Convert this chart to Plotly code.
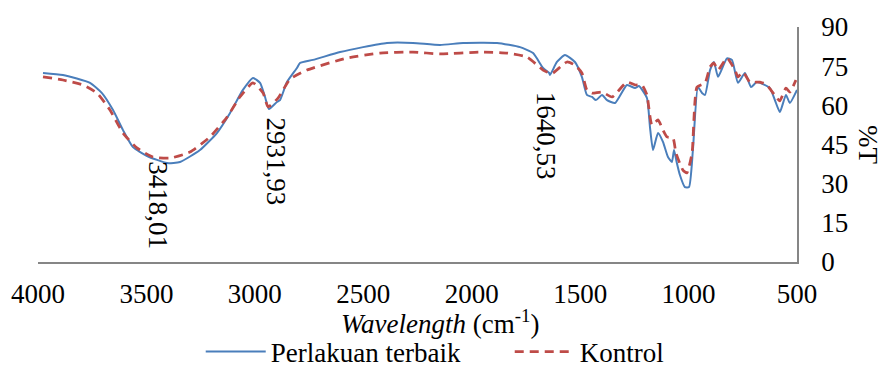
import plotly.graph_objects as go

# Perlakuan terbaik (blue, solid)
wave_best = [3977, 3885, 3760, 3705, 3654, 3608, 3562, 3497, 3405, 3345, 3253, 3175, 3115, 3055,
             3009, 2976, 2953, 2935, 2898, 2884, 2852, 2806, 2792, 2732, 2607, 2501, 2391, 2271,
             2146, 2040, 1883, 1777, 1717, 1671, 1643, 1639, 1607, 1570, 1524, 1492, 1469, 1445,
             1427, 1399, 1376, 1339, 1284, 1247, 1229, 1192, 1178, 1164, 1141, 1118, 1095, 1077,
             1067, 1054, 1040, 1017, 998, 980, 957, 938, 924, 901, 883, 864, 823, 800, 772, 740,
             712, 685, 625, 602, 579, 551, 533, 500]
trans_best = [72.4, 71.6, 68.6, 64.7, 58.2, 50.5, 44.0, 40.6, 37.9, 38.3, 42.9, 49.4, 57.0, 65.9,
              70.5, 68.6, 63.2, 58.6, 61.3, 62.0, 68.9, 74.3, 76.2, 77.4, 80.4, 82.3, 83.9, 83.9,
              83.1, 83.9, 83.9, 82.3, 80.0, 74.3, 72.4, 71.6, 76.6, 79.3, 76.6, 70.9, 64.0, 63.2,
              62.0, 64.0, 62.0, 60.9, 67.8, 66.6, 67.4, 62.8, 51.7, 42.9, 49.4, 46.0, 40.2, 38.3,
              42.9, 37.9, 33.3, 28.7, 28.7, 42.9, 67.0, 64.7, 64.0, 73.5, 76.6, 70.9, 78.0, 77.4,
              68.6, 72.4, 67.0, 68.9, 66.6, 62.0, 57.4, 64.0, 60.9, 65.9]

# Kontrol (red, dashed)
wave_ctrl = [3977, 3885, 3793, 3728, 3668, 3608, 3544, 3470, 3391, 3299, 3207, 3128, 3069, 3009,
             2962, 2939, 2893, 2838, 2760, 2575, 2423, 2271, 2146, 1962, 1837, 1745, 1671, 1643,
             1625, 1561, 1524, 1492, 1469, 1445, 1399, 1353, 1284, 1247, 1215, 1192, 1169, 1141,
             1118, 1100, 1072, 1058, 1026, 1008, 984, 961, 924, 901, 883, 864, 823, 786, 772, 749,
             717, 671, 639, 593, 579, 551, 533, 505]
trans_ctrl = [70.9, 69.7, 67.8, 64.7, 58.2, 49.4, 43.7, 40.2, 39.8, 42.1, 47.9, 55.5, 63.2, 68.6,
              64.7, 59.4, 62.8, 70.0, 73.5, 78.1, 80.0, 80.4, 79.7, 80.4, 80.0, 78.5, 73.5, 72.4,
              72.4, 76.6, 75.4, 72.4, 65.9, 64.7, 65.1, 63.2, 68.9, 67.8, 67.8, 64.0, 52.5, 54.4,
              50.5, 47.9, 47.5, 41.7, 35.2, 34.1, 41.7, 67.0, 68.6, 74.7, 76.2, 73.5, 78.1, 73.5,
              70.9, 72.8, 68.9, 68.9, 67.8, 62.8, 61.7, 66.6, 65.1, 69.7]

x_ticks = [4000, 3500, 3000, 2500, 2000, 1500, 1000, 500]
y_ticks = [0, 15, 30, 45, 60, 75, 90]

peak_labels = ["3418,01", "2931,93", "1640,53"]
peak_x = [3445, 2903, 1657]
peak_y = [21.6, 38.5, 48.3]

FONT = "Liberation Serif"
FS = 27
AXIS_COLOR = "#868686"

fig = go.Figure()
fig.add_trace(go.Scatter(
    x=wave_best, y=trans_best, mode="lines", name="Perlakuan terbaik",
    line=dict(color="#4a7ebb", width=2, shape="spline", smoothing=0.5)))
fig.add_trace(go.Scatter(
    x=wave_ctrl, y=trans_ctrl, mode="lines", name="Kontrol",
    line=dict(color="#be4b48", width=2.75, dash="9px,6px", shape="spline", smoothing=0.5)))

for lab, px, py in zip(peak_labels, peak_x, peak_y):
    fig.add_annotation(x=px, y=py, xref="x", yref="y", text=lab, showarrow=False,
                       textangle=90, xanchor="center", yanchor="middle",
                       font=dict(family=FONT, size=FS, color="black"))

fig.add_annotation(x=1.0935, y=0.498, xref="paper", yref="paper", text="%T",
                   showarrow=False, textangle=90, xanchor="center", yanchor="middle",
                   font=dict(family=FONT, size=FS, color="black"))
fig.add_annotation(x=0.5296, y=-0.255, xref="paper", yref="paper",
                   text="<i>Wavelength</i> (cm<sup>-1</sup>)",
                   showarrow=False, xanchor="center", yanchor="middle",
                   font=dict(family=FONT, size=FS, color="black"))

fig.update_layout(
    width=882, height=367,
    margin=dict(l=38, r=85, t=27, b=105, autoexpand=False),
    paper_bgcolor="white", plot_bgcolor="white",
    font=dict(family=FONT, size=FS, color="black"),
    showlegend=True,
    legend=dict(orientation="h", x=0.2144, xanchor="left", y=-0.383, yanchor="middle",
                font=dict(family=FONT, size=FS, color="black"),
                bgcolor="rgba(0,0,0,0)", itemwidth=60, entrywidth=234, tracegroupgap=0),
    xaxis=dict(range=[4000, 500], tickvals=x_ticks, ticktext=[str(v) for v in x_ticks],
               showgrid=False, zeroline=False, showline=True, linecolor=AXIS_COLOR,
               linewidth=1.5, ticks="", ticklabelstandoff=7,
               tickfont=dict(family=FONT, size=FS, color="black")),
    yaxis=dict(range=[0, 90], tickvals=y_ticks, side="right",
               showgrid=False, zeroline=False, showline=True, linecolor=AXIS_COLOR,
               linewidth=1.5, ticks="", ticklabelstandoff=17,
               tickfont=dict(family=FONT, size=FS, color="black")),
)

fig.write_html("out.html")
